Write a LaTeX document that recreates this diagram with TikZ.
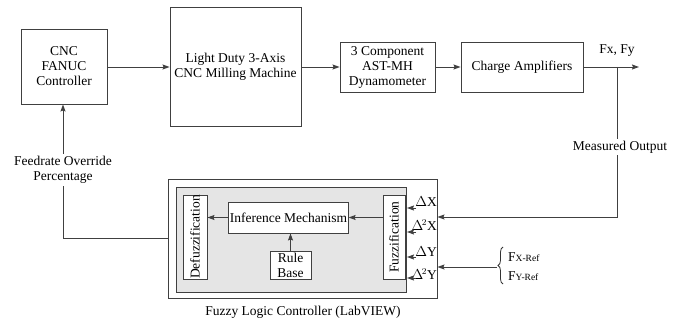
\documentclass[tikz,border=0pt]{standalone}
\usepackage{fontspec}
\setmainfont{Liberation Serif}
\usetikzlibrary{arrows.meta,decorations.pathreplacing}
\begin{document}
\begin{tikzpicture}[x=1pt,y=-1pt,
  font=\fontsize{13.5}{15}\selectfont,
  line/.style={draw=black!75,line width=0.9pt},
  arr/.style={line,-{Stealth[length=7pt,width=5pt,inset=1pt]}},
  blk/.style={draw=black!75,line width=0.9pt,fill=white,inner sep=1pt,align=center},
  lbl/.style={inner sep=1pt,align=center}]
\useasboundingbox (0,0) rectangle (681,321);

% main signal chain
\node[blk,minimum width=86pt,minimum height=75pt] (cnc) at (64,66.5) {CNC\\FANUC\\Controller};
\node[blk,minimum width=131pt,minimum height=119pt] (mill) at (235.5,66.5) {Light Duty 3-Axis\\CNC Milling Machine};
\node[blk,minimum width=95pt,minimum height=50pt] (dyn) at (387.5,67) {3 Component\\AST-MH\\Dynamometer};
\node[blk,minimum width=122pt,minimum height=50pt] (amp) at (522,67) {Charge Amplifiers};

\draw[arr] (cnc.east |- 0,67) -- (mill.west |- 0,67);
\draw[arr] (mill.east |- 0,67) -- (dyn.west |- 0,67);
\draw[arr] (dyn.east) -- (amp.west);
\coordinate (out) at (639,67);
\coordinate (tap) at (617,67);
\draw[arr] (amp.east) -- (out);
\node[lbl] (fxfy) at (617,51) {Fx, Fy};

% fuzzy logic controller
\node[blk,minimum width=269pt,minimum height=119pt] (flc) at (302.5,238.5) {};
\node[draw=black!75,line width=0.9pt,fill=black!10,minimum width=230pt,minimum height=105pt,inner sep=0pt] (core) at (291,239.5) {};
\node[blk,minimum width=24pt,minimum height=84pt] (defuz) at (195,237) {};
\node[rotate=90,inner sep=0pt] at (defuz.center) {Defuzzification};
\node[blk,minimum width=22pt,minimum height=84pt] (fuzz) at (394,237) {};
\node[rotate=90,inner sep=0pt] at (fuzz.center) {Fuzzification};
\node[blk,minimum width=119pt,minimum height=31pt] (inf) at (288.5,217.5) {Inference Mechanism};
\node[blk,minimum width=41pt,minimum height=28pt] (rule) at (290.5,265) {Rule\\Base};

\draw[arr] (fuzz.west |- inf.east) -- (inf.east);
\draw[arr] (inf.west) -- (defuz.east |- inf.west);
\draw[arr] (rule.north) -- (inf.south -| rule.north);

% controller inputs
\node[lbl,anchor=east] (dx)  at (438,202) {$\Delta$X};
\node[lbl,anchor=east] (ddx) at (438,225) {$\Delta^{\!2}$X};
\node[lbl,anchor=east] (dy)  at (438,252) {$\Delta$Y};
\node[lbl,anchor=east] (ddy) at (438,274) {$\Delta^{\!2}$Y};
\foreach \yy/\nm in {208/a,232/b,257/c,278/d}{
  \coordinate (s\nm) at (416,\yy);
  \coordinate (e\nm) at (407,\yy);
  \draw[arr] (s\nm) -- (e\nm);
}

% measured output feedback
\draw[arr] (tap) -- (617,217) -- (flc.east |- 0,217);
\node[lbl,fill=white,inner sep=2pt] (meas) at (620,147) {Measured Output};

% reference forces
\coordinate (brtip) at (497,267);
\draw[black!80,line width=0.8pt,decorate,decoration={brace,amplitude=5pt}] (503,284) -- (503,247);
\draw[arr] (brtip) -- (flc.east |- brtip);
\node[lbl,anchor=west] (fxr) at (507,257) {F{\fontsize{9.5}{10}\selectfont X-Ref}};
\node[lbl,anchor=west] (fyr) at (507,276) {F{\fontsize{9.5}{10}\selectfont Y-Ref}};

% feedrate override loop
\coordinate (corner) at (63,238.5);
\draw[arr] (flc.west) -- (corner) -- (cnc.south -| corner);
\node[lbl,fill=white,inner sep=2pt] (feed) at (63,170) {Feedrate Override\\Percentage};

\node[lbl] (title) at (303,312) {Fuzzy Logic Controller (LabVIEW)};
\end{tikzpicture}
\end{document}
